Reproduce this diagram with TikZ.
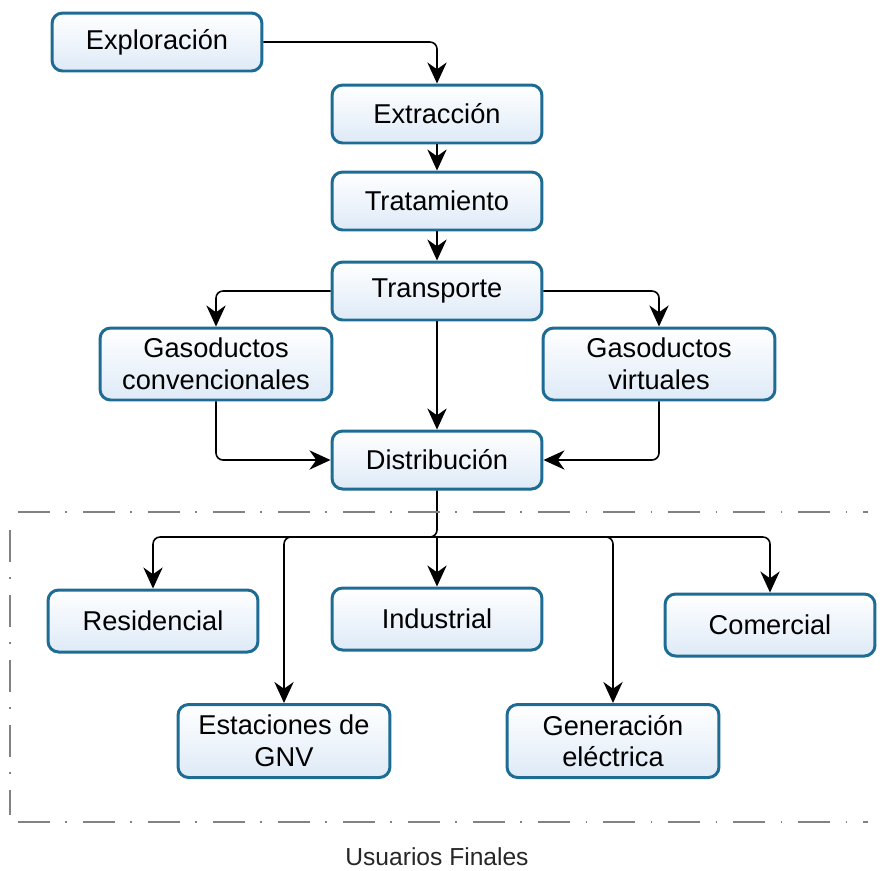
\documentclass[tikz,border=0pt]{standalone}
\usepackage{fontspec}
\setmainfont{Liberation Sans}
\usetikzlibrary{arrows.meta,positioning,calc}
\definecolor{boxblue}{RGB}{30,108,148}
\definecolor{boxfill}{RGB}{222,234,247}
\definecolor{framegray}{RGB}{130,130,130}

\begin{document}
\begin{tikzpicture}[
    x=0.02cm, y=-0.02cm,
    etapa/.style={rectangle, rounded corners=6pt, draw=boxblue, line width=1.7pt,
                  top color=white, bottom color=boxfill,
                  minimum width=4.2cm, minimum height=1.16cm,
                  font=\fontsize{15.5}{17}\selectfont, align=center},
    doble/.style={etapa, minimum width=4.64cm, minimum height=1.44cm,
                  font=\fontsize{15.5}{18}\selectfont},
    arrow/.style={-{Stealth[length=12pt,width=11pt]}, line width=0.9pt, rounded corners=4pt}
]
\useasboundingbox (0,0) rectangle (886,870);

% Cadena principal
\node[etapa] (explo) at (157,42) {Exploración};
\node[etapa] (extra) at (437,114) {Extracción};
\node[etapa] (trata) at (437,201) {Tratamiento};
\node[etapa] (transp) at (437,291) {Transporte};

% Gasoductos
\node[doble] (gasconv) at (216,364) {Gasoductos\\convencionales};
\node[doble] (gasvirt) at (659,364) {Gasoductos\\virtuales};

\node[etapa] (distri) at (437,460) {Distribución};

% Usuarios finales
\node[etapa, minimum height=1.24cm] (resid) at (153,621) {Residencial};
\node[etapa, minimum height=1.24cm] (indus) at (437,619) {Industrial};
\node[etapa, minimum height=1.24cm] (comer) at (770,625) {Comercial};
\node[doble, minimum width=4.24cm, minimum height=1.46cm] (gnv) at (284,741) {Estaciones de\\GNV};
\node[doble, minimum width=4.24cm, minimum height=1.46cm] (gener) at (613,741) {Generación\\eléctrica};

% Flechas de la cadena
\draw[arrow] (explo.east) -| (extra.north);
\draw[arrow] (extra) -- (trata);
\draw[arrow] (trata) -- (transp);
\draw[arrow] (transp.west) -| (gasconv.north);
\draw[arrow] (transp.east) -| (gasvirt.north);
\draw[arrow] (transp) -- (distri);
\draw[arrow] (gasconv.south) |- (distri.west);
\draw[arrow] (gasvirt.south) |- (distri.east);

% Reparto a los usuarios
\coordinate (bus) at (437,537);
\draw[arrow] (distri.south) -- (bus) -| (resid.north);
\draw[arrow] (bus) -- (indus.north);
\draw[arrow] (bus) -| (comer.north);
\draw[arrow] (bus) -| (gnv.north);
\draw[arrow] (bus) -| (gener.north);

% Marco de usuarios finales
\draw[framegray, line width=1.6pt, dash pattern=on 18pt off 9pt on 1pt off 9pt]
    (18,512) -- (868,512);
\draw[framegray, line width=1.6pt, dash pattern=on 18pt off 9pt on 1pt off 9pt]
    (10,530) -- (10,815);
\draw[framegray, line width=1.6pt, dash pattern=on 18pt off 9pt on 1pt off 9pt]
    (18,822) -- (868,822);
\node[font=\fontsize{14}{16}\selectfont, text=black!85] (usuarios) at (437,857) {Usuarios Finales};

\end{tikzpicture}
\end{document}
